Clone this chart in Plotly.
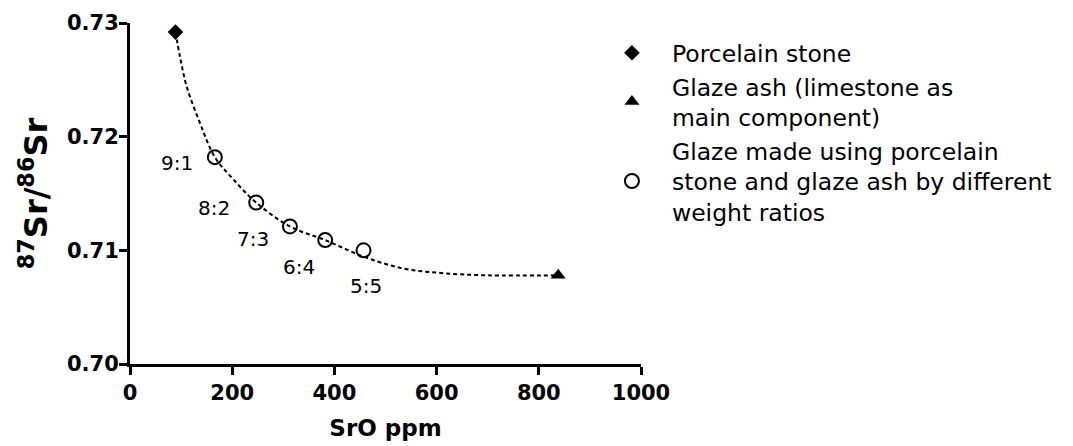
import plotly.graph_objects as go

# ---- data ----
stone_x = [89]
stone_y = [0.7292]

ash_x = [838]
ash_y = [0.7078]

glaze_labels = ["9:1", "8:2", "7:3", "6:4", "5:5"]
glaze_x = [166, 247, 313, 382, 457]
glaze_y = [0.7182, 0.7142, 0.7121, 0.7109, 0.7100]

# dashed mixing curve
curve_x = [89, 98, 111, 137, 166, 200, 247, 313, 382, 460, 535, 610, 700, 838]
curve_y = [0.7292, 0.7270, 0.7244, 0.7212, 0.7182, 0.71635, 0.7142, 0.7121,
           0.7109, 0.7094, 0.7084, 0.7080, 0.7078, 0.7078]

x_ticks = [0, 200, 400, 600, 800, 1000]
y_ticks = [0.70, 0.71, 0.72, 0.73]

FONT = "DejaVu Sans, Liberation Sans, Arial, sans-serif"

fig = go.Figure()

fig.add_trace(go.Scatter(
    x=curve_x, y=curve_y, mode="lines", showlegend=False, hoverinfo="skip",
    line=dict(color="black", width=2, dash="4px,3px", shape="spline", smoothing=1.0),
))

fig.add_trace(go.Scatter(
    x=stone_x, y=stone_y, mode="markers", name="Porcelain stone",
    marker=dict(symbol="diamond", size=12, color="black"),
))
fig.add_trace(go.Scatter(
    x=ash_x, y=ash_y, mode="markers",
    name="Glaze ash (limestone as<br>main component)",
    marker=dict(symbol="triangle-up", size=13, color="black"),
))
fig.add_trace(go.Scatter(
    x=glaze_x, y=glaze_y, mode="markers",
    name="Glaze made using porcelain<br>stone and glaze ash by different<br>weight ratios",
    marker=dict(symbol="circle-open", size=14, color="black", line=dict(width=2, color="black")),
))

# ratio labels (offsets in pixels from each point)
label_shift = {"9:1": (-38, -6), "8:2": (-42, -5), "7:3": (-37, -13), "6:4": (-26, -27), "5:5": (2, -36)}
for lab, xv, yv in zip(glaze_labels, glaze_x, glaze_y):
    dx, dy = label_shift[lab]
    fig.add_annotation(x=xv, y=yv, xref="x", yref="y", text=lab, showarrow=False,
                       xshift=dx, yshift=dy, font=dict(family=FONT, size=20, color="black"))

axis_common = dict(
    showline=True, linewidth=3, linecolor="black", mirror=False,
    ticks="outside", ticklen=8, tickwidth=2.5, tickcolor="black",
    showgrid=False, zeroline=False, automargin=False,
    tickfont=dict(family=FONT, size=21, color="black", weight="bold"),
)

fig.update_xaxes(range=[0, 1000], tickvals=x_ticks, ticktext=[str(v) for v in x_ticks],
                 title=dict(text="<b>SrO ppm</b>", font=dict(family=FONT, size=23, color="black"), standoff=16),
                 **axis_common)
fig.update_yaxes(range=[0.70, 0.73], tickvals=y_ticks, ticktext=[f"{v:.2f}" for v in y_ticks],
                 ticklabelstandoff=-4,
                 title=dict(text="<b><sup>87</sup>Sr/<sup>86</sup>Sr</b>",
                            font=dict(family=FONT, size=32, color="black"), standoff=10),
                 **axis_common)

# margins compensate for the page's 8px body margin
fig.update_layout(
    width=1073, height=446,
    margin=dict(l=122, r=440, t=15, b=90, autoexpand=False),
    paper_bgcolor="white", plot_bgcolor="white",
    font=dict(family=FONT, color="black"),
    legend=dict(x=0.904, y=0.9765, xanchor="left", yanchor="top",
                font=dict(family=FONT, size=23.5, color="black"),
                itemwidth=70, bgcolor="rgba(0,0,0,0)", borderwidth=0),
)

fig.write_html("out.html")
